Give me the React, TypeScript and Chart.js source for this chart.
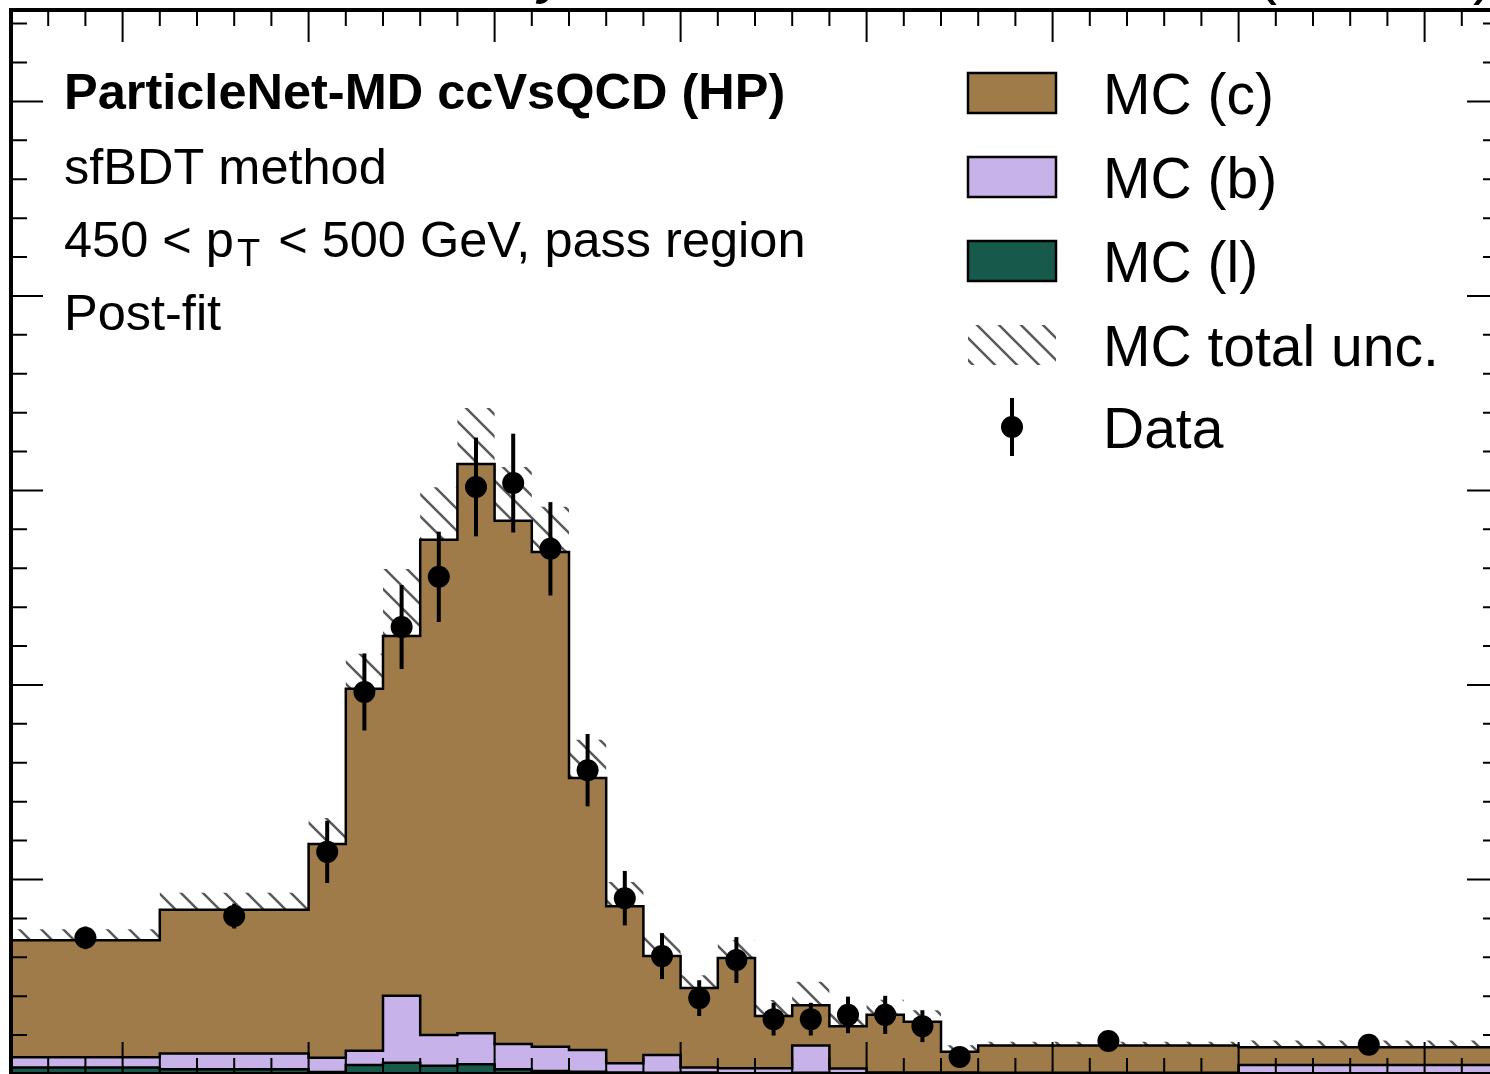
import React, { useEffect, useRef } from "react";
import { Chart, registerables } from "chart.js";
Chart.register(...registerables);

// ---------------- data ----------------
const binEdges = [-0.8, -0.4, 0.0, 0.1, 0.2, 0.3, 0.4, 0.5, 0.6, 0.7, 0.8, 0.9, 1.0, 1.1, 1.2, 1.3, 1.4, 1.5, 1.6, 1.7, 1.8, 2.5, 3.2];
const mcLight = [1.7, 1.2, 0.5, 2.3, 2.9, 2.1, 2.5, 1.2, 0.8, 0.6, 0.4, 0.3, 0.4, 0.2, 0.2, 0.3, 0.2, 0.1, 0.1, 0.1, 0.05, 0.1];
const mcB = [2.6, 4.1, 3.7, 3.7, 17.2, 7.9, 8.0, 6.5, 6.2, 5.6, 2.35, 4.6, 1.3, 1.3, 1.3, 7.0, 1.2, 0.3, 0.3, 0.3, 0.25, 2.2];
const mcC = [30.1, 36.9, 54.9, 93.0, 92.5, 127.3, 146.3, 134.5, 127.2, 69.9, 40.4, 25.4, 20.4, 28.3, 13.4, 10.4, 10.9, 14.8, 13.0, 5.3, 7.0, 4.6];
const mcUnc = [2.8, 4.4, 6.7, 9.0, 17.2, 13.5, 14.4, 13.8, 11.6, 9.8, 6.2, 5.9, 3.3, 4.6, 4.1, 6.0, 3.3, 3.9, 3.0, 1.7, 1.0, 1.7];
const dataValues = [35.0, 40.6, 57.1, 98.2, 114.9, 127.8, 150.9, 151.9, 135.0, 78.1, 45.2, 30.3, 19.5, 29.3, 14.1, 14.1, 15.2, 15.2, 12.3, 4.4, 8.5, 7.5];
const dataErrors = [2.9, 3.2, 8.0, 9.9, 10.8, 11.6, 12.7, 12.7, 12.0, 9.3, 7.0, 5.9, 4.6, 5.9, 4.2, 4.2, 4.7, 4.9, 4.1, 2.1, 1.1, 1.0];

const legendLabels = ["MC (c)", "MC (b)", "MC (l)", "MC total unc.", "Data"];
const textLines = ["ParticleNet-MD ccVsQCD (HP)", "sfBDT method", "450 < p", "T", " < 500 GeV, pass region", "Post-fit"];
const titleLeft = ["CMS", "Preliminary"];
const titleRight = "138 fb\u207B\u00B9 (13 TeV)";

const xMin = -0.8, xMax = 3.2, xMinorStep = 0.1, xMajorStep = 0.5;
const yMin = 0, yMax = 273.5, yMinorStep = 10, yMajorStep = 50;

// ---------------- style ----------------
const COL_C = "#a07b4a";
const COL_B = "#c7b3ea";
const COL_L = "#175a4c";
const FONT = "'Liberation Sans', Arial, Helvetica, sans-serif";
const OFF = 80; // canvas is shifted up by this many px
const CW = 1520, CH = 1180;

function makeHatch(): CanvasPattern | string {
  const pc = document.createElement("canvas");
  pc.width = 22; pc.height = 22;
  const g = pc.getContext("2d");
  if (!g) return "rgba(0,0,0,0)";
  g.strokeStyle = "#5a5a5a";
  g.lineWidth = 2.5;
  g.beginPath();
  g.moveTo(-5, -5); g.lineTo(27, 27);
  g.moveTo(17, -5); g.lineTo(27, 5);
  g.moveTo(-5, 17); g.lineTo(5, 27);
  g.stroke();
  const ctx = document.createElement("canvas").getContext("2d");
  return (ctx && ctx.createPattern(pc, "repeat")) || "rgba(0,0,0,0)";
}

function steps(vals: number[]) {
  return binEdges.map((e, i) => ({ x: e, y: vals[Math.min(i, vals.length - 1)] }));
}

export default function App() {
  const ref = useRef<HTMLCanvasElement | null>(null);
  useEffect(() => {
    if (!ref.current) return;
    const hatch = makeHatch();
    const cumL = mcLight.map((v) => v);
    const cumLB = mcLight.map((v, i) => v + mcB[i]);
    const cumTot = cumLB.map((v, i) => v + mcC[i]);
    const bandHi = cumTot.map((v, i) => v + mcUnc[i]);
    const bandLo = cumTot.map((v, i) => v - mcUnc[i]);
    const centers = dataValues.map((_, i) => (binEdges[i] + binEdges[i + 1]) / 2);

    const decor = {
      id: "decor",
      afterDatasetsDraw(chart: any) {
        const { ctx, chartArea: a } = chart;
        const x = chart.scales.x, y = chart.scales.y;
        ctx.save();
        ctx.beginPath();
        ctx.rect(a.left, a.top, a.right - a.left, a.bottom - a.top);
        ctx.clip();
        ctx.strokeStyle = "#000";
        ctx.lineWidth = 4;
        dataValues.forEach((v, i) => {
          const cx = x.getPixelForValue(centers[i]);
          ctx.beginPath();
          ctx.moveTo(cx, y.getPixelForValue(v - dataErrors[i]));
          ctx.lineTo(cx, y.getPixelForValue(v + dataErrors[i]));
          ctx.stroke();
        });
        ctx.restore();
      },
      afterDraw(chart: any) {
        const { ctx, chartArea: a } = chart;
        const x = chart.scales.x, y = chart.scales.y;
        ctx.save();
        // ticks
        ctx.strokeStyle = "#000";
        ctx.lineWidth = 2;
        const nx = Math.round((xMax - xMin) / xMinorStep);
        for (let i = 0; i <= nx; i++) {
          const v = xMin + i * xMinorStep;
          const r = v / xMajorStep;
          const major = Math.abs(r - Math.round(r)) < 1e-6;
          const len = major ? 32 : 16;
          const px = x.getPixelForValue(v);
          ctx.beginPath();
          ctx.moveTo(px, a.top); ctx.lineTo(px, a.top + len);
          ctx.moveTo(px, a.bottom); ctx.lineTo(px, a.bottom - len);
          ctx.stroke();
        }
        for (let v = yMin; v <= yMax; v += yMinorStep) {
          const major = Math.abs(v % yMajorStep) < 1e-6;
          const len = major ? 32 : 16;
          const py = y.getPixelForValue(v);
          ctx.beginPath();
          ctx.moveTo(a.left, py); ctx.lineTo(a.left + len, py);
          ctx.moveTo(a.right, py); ctx.lineTo(a.right - len, py);
          ctx.stroke();
        }
        // frame
        ctx.lineWidth = 4;
        ctx.strokeRect(a.left, a.top, a.right - a.left, a.bottom - a.top);

        // title (mostly outside the visible window)
        ctx.fillStyle = "#000";
        ctx.textBaseline = "alphabetic";
        ctx.textAlign = "left";
        ctx.font = `bold 66px ${FONT}`;
        const cmsW = ctx.measureText(titleLeft[0]).width;
        ctx.font = `italic 58px ${FONT}`;
        const preW = ctx.measureText(titleLeft[1]).width;
        const preX = 568 - preW;
        ctx.fillText(titleLeft[1], preX, OFF - 8);
        ctx.font = `bold 66px ${FONT}`;
        ctx.fillText(titleLeft[0], preX - cmsW - 16, OFF - 8);
        ctx.font = `63px ${FONT}`;
        ctx.textAlign = "right";
        ctx.fillText(titleRight, 1494, OFF - 8);

        // annotation text
        ctx.textAlign = "left";
        const tx = 64;
        ctx.font = `bold 50.5px ${FONT}`;
        ctx.fillText(textLines[0], tx, OFF + 109);
        ctx.font = `50.5px ${FONT}`;
        ctx.fillText(textLines[1], tx, OFF + 184);
        let cx = tx;
        ctx.fillText(textLines[2], cx, OFF + 257);
        cx += ctx.measureText(textLines[2]).width + 3;
        ctx.font = `38px ${FONT}`;
        ctx.fillText(textLines[3], cx, OFF + 266);
        cx += ctx.measureText(textLines[3]).width + 4;
        ctx.font = `50.5px ${FONT}`;
        ctx.fillText(textLines[4], cx, OFF + 257);
        ctx.fillText(textLines[5], tx, OFF + 330);

        // legend
        const bx = 968, bw = 88, bh = 40, lx = 1103;
        const rows = [93, 177, 261, 345, 427];
        const fills = [COL_C, COL_B, COL_L];
        for (let i = 0; i < 3; i++) {
          ctx.fillStyle = fills[i];
          ctx.fillRect(bx, OFF + rows[i] - bh / 2, bw, bh);
          ctx.strokeStyle = "#000";
          ctx.lineWidth = 2.5;
          ctx.strokeRect(bx, OFF + rows[i] - bh / 2, bw, bh);
        }
        ctx.fillStyle = hatch as any;
        ctx.fillRect(bx, OFF + rows[3] - bh / 2, bw, bh);
        // data marker
        ctx.fillStyle = "#000";
        ctx.strokeStyle = "#000";
        ctx.lineWidth = 4;
        ctx.beginPath();
        ctx.moveTo(bx + bw / 2, OFF + rows[4] - 29);
        ctx.lineTo(bx + bw / 2, OFF + rows[4] + 29);
        ctx.stroke();
        ctx.beginPath();
        ctx.arc(bx + bw / 2, OFF + rows[4], 11, 0, Math.PI * 2);
        ctx.fill();
        ctx.font = `57px ${FONT}`;
        ctx.fillStyle = "#000";
        for (let i = 0; i < legendLabels.length; i++) {
          ctx.fillText(legendLabels[i], lx, OFF + rows[i] + 21);
        }
        ctx.restore();
      },
    };

    const lineBase = {
      type: "line" as const,
      stepped: true,
      pointRadius: 0,
      borderColor: "#000",
      borderWidth: 2.5,
      tension: 0,
    };

    const chart = new Chart(ref.current, {
      type: "line",
      data: {
        datasets: [
          {
            type: "line",
            label: "Data",
            data: centers.map((c, i) => ({ x: c, y: dataValues[i] })),
            showLine: false,
            pointRadius: 11,
            pointBackgroundColor: "#000",
            pointBorderWidth: 0,
            borderColor: "#000",
            order: 0,
          } as any,
          { ...lineBase, label: "MC (c)", data: steps(cumTot), backgroundColor: COL_C, fill: { target: 2 }, order: 1 },
          { ...lineBase, label: "MC (b)", data: steps(cumLB), backgroundColor: COL_B, fill: { target: 3 }, order: 2 },
          { ...lineBase, label: "MC (l)", data: steps(cumL), backgroundColor: COL_L, fill: "origin", order: 3 },
          { ...lineBase, label: "MC total unc.", data: steps(bandHi), borderColor: "rgba(0,0,0,0)", borderWidth: 1, backgroundColor: hatch as any, fill: { target: 5 }, order: 4 },
          { ...lineBase, label: "unc low", data: steps(bandLo), borderColor: "rgba(0,0,0,0)", borderWidth: 1, backgroundColor: "rgba(0,0,0,0)", fill: false, order: 5 },
        ] as any,
      },
      options: {
        animation: false,
        responsive: false,
        devicePixelRatio: 1,
        layout: { padding: { left: 11, right: CW - 1499, top: OFF + 10, bottom: CH - (OFF + 1074) } },
        scales: {
          x: { type: "linear", min: xMin, max: xMax, display: false },
          y: { type: "linear", min: yMin, max: yMax, display: false },
        },
        plugins: {
          legend: { display: false },
          title: { display: false },
          tooltip: { enabled: false },
          filler: { drawTime: "beforeDatasetsDraw" } as any,
        },
        events: [],
      },
      plugins: [decor],
    });
    return () => chart.destroy();
  }, []);

  return (
    <div style={{ position: "fixed", left: 0, top: 0, width: 1490, height: 1074, overflow: "hidden", background: "#fff" }}>
      <canvas ref={ref} width={CW} height={CH} style={{ position: "absolute", left: 0, top: -OFF, width: CW, height: CH }} />
    </div>
  );
}
